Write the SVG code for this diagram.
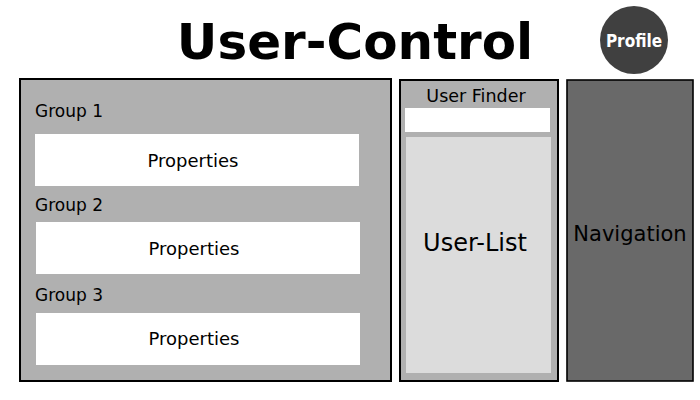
<svg xmlns="http://www.w3.org/2000/svg" width="700" height="400" viewBox="0 0 700 400">
<style>
text{font-family:"DejaVu Sans","Liberation Sans",sans-serif;fill:#000}
.panel{fill:#b0b0b0;stroke:#000;stroke-width:2}
.white{fill:#fff}
.lbl{font-size:17px}
.prop{font-size:18px;text-anchor:middle}
</style>
<rect width="700" height="400" fill="#fff"/>
<g id="title"><text x="355" y="59" font-size="50" font-weight="bold" text-anchor="middle">User-Control</text></g>
<g id="profile"><circle cx="634" cy="40" r="34" fill="#404040"/><text x="634" y="47" font-size="17" font-weight="bold" text-anchor="middle" style="fill:#fff;font-family:'DejaVu Sans Condensed','DejaVu Sans',sans-serif;font-stretch:condensed">Profile</text></g>
<g id="groups">
<rect class="panel" x="20" y="79" width="371" height="302"/>
<text class="lbl" x="35" y="117">Group 1</text>
<rect class="white" x="35" y="134" width="324" height="52"/>
<text class="prop" x="193" y="167">Properties</text>
<text class="lbl" x="35" y="211">Group 2</text>
<rect class="white" x="36" y="222" width="324" height="52"/>
<text class="prop" x="194" y="255">Properties</text>
<text class="lbl" x="35" y="301">Group 3</text>
<rect class="white" x="36" y="313" width="324" height="52"/>
<text class="prop" x="194" y="345">Properties</text>
</g>
<g id="userfinder">
<rect class="panel" x="400" y="80" width="158" height="301"/>
<text x="476" y="102" font-size="17.5" text-anchor="middle">User Finder</text>
<rect class="white" x="405" y="108" width="145" height="24"/>
</g>
<g id="userlist">
<rect x="406" y="137" width="145" height="236" fill="#dcdcdc"/>
<text x="475" y="251" font-size="24" text-anchor="middle">User-List</text>
</g>
<g id="navigation">
<rect x="567" y="80" width="126" height="301" fill="#696969" stroke="#000" stroke-width="1.6"/>
<text x="630" y="241" font-size="21" text-anchor="middle">Navigation</text>
</g>
<g id="connectors"/>
</svg>
